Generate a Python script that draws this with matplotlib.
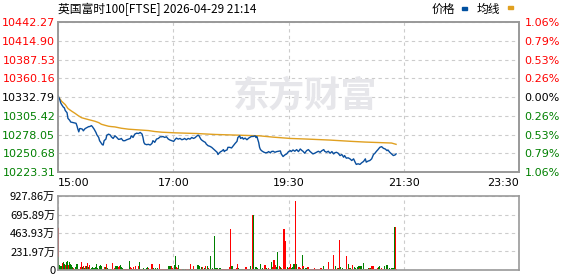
import numpy as np
import matplotlib.pyplot as plt
from matplotlib.patches import Rectangle

plt.rcParams['font.family'] = ['DejaVu Sans']
CJK = ['Noto Sans CJK SC', 'DejaVu Sans']

# 昨收 / 纵轴刻度
prev_close = 10332.79
price_ticks = [10442.27, 10414.90, 10387.53, 10360.16, 10332.79,
               10305.42, 10278.05, 10250.68, 10223.31]
pct_labels = ['1.06%', '0.79%', '0.53%', '0.26%', '0.00%',
              '0.26%', '0.53%', '0.79%', '1.06%']
vol_ticks = [0, 231.97, 463.93, 695.89, 927.86]
vol_labels = ['0', '231.97万', '463.93万', '695.89万', '927.86万']
# 交易时段 15:00-23:30 共 510 分钟
time_ticks = [0, 127.5, 255, 382.5, 510]
time_labels = ['15:00', '17:00', '19:30', '21:30', '23:30']

# 分时价格 (分钟, 点位)
price_min = [0, 2, 3, 4, 6, 7, 8, 10, 11, 13, 14, 17, 20, 21, 22, 23, 24, 25, 27, 28,
             30, 32, 34, 35, 37, 38, 40, 42, 43, 45, 46, 48, 49, 50, 51, 53, 54, 56, 58, 59,
             61, 63, 65, 67, 69, 70, 72, 74, 76, 78, 80, 81, 83, 85, 87, 89, 91, 93, 94, 95,
             96, 98, 100, 102, 104, 105, 106, 107, 109, 111, 113, 115, 116, 118, 120, 122, 124, 126, 128,
             129, 131, 133, 135, 137, 139, 140, 142, 144, 146, 148, 150, 152, 153, 155, 156, 158, 159,
             161, 163, 164, 166, 168, 170, 172, 174, 176, 177, 178, 180, 181, 183, 184, 185, 187, 188,
             190, 192, 194, 196, 198, 199, 201, 202, 204, 205, 207, 209, 211, 212, 214, 216, 218, 219,
             220, 222, 223, 224, 226, 228, 230, 232, 233, 235, 236, 238, 240, 242, 244, 246, 247, 249,
             251, 253, 255, 257, 258, 260, 262, 264, 266, 268, 270, 271, 273, 275, 277, 279, 281, 282,
             284, 286, 288, 290, 292, 294, 295, 297, 299, 301, 303, 305, 306, 308, 310, 312, 314, 316,
             317, 319, 321, 323, 325, 327, 329, 330, 332, 334, 336, 338, 340, 341, 343, 345, 347, 349,
             351, 352, 354, 356, 358, 360, 362, 364, 365, 367, 369, 371, 373, 374]
price = [10334.7, 10328.9, 10324.2, 10321.8, 10317.9, 10317.0, 10313.1, 10309.8, 10301.6, 10298.7,
         10296.3, 10295.4, 10294.4, 10290.6, 10285.8, 10281.9, 10286.7, 10286.7, 10285.8, 10283.4,
         10286.7, 10288.2, 10289.6, 10289.6, 10291.0, 10289.6, 10285.8, 10281.0, 10277.6, 10273.8,
         10269.0, 10265.1, 10263.2, 10262.7, 10269.0, 10271.4, 10277.1, 10278.6, 10277.1, 10274.7,
         10272.3, 10276.2, 10273.8, 10270.9, 10271.4, 10272.3, 10269.0, 10269.0, 10270.4, 10271.4,
         10272.3, 10276.2, 10273.8, 10278.6, 10280.0, 10279.5, 10281.0, 10278.6, 10273.8, 10266.6,
         10264.2, 10263.2, 10263.7, 10262.7, 10265.1, 10269.0, 10268.0, 10266.6, 10271.4, 10272.3,
         10274.7, 10274.7, 10275.2, 10273.8, 10274.7, 10271.4, 10269.9, 10269.0, 10268.0,
         10269.9, 10272.8, 10271.3, 10272.3, 10270.4, 10271.3, 10272.3, 10270.4, 10272.3, 10271.3,
         10273.7, 10272.3, 10273.7, 10275.2, 10277.1, 10276.1, 10271.3, 10269.9,
         10268.0, 10266.5, 10264.1, 10261.7, 10260.8, 10259.3, 10256.9, 10254.5, 10252.1, 10248.8,
         10250.7, 10253.1, 10253.6, 10256.0, 10253.1, 10254.5, 10255.5, 10259.3,
         10259.3, 10258.4, 10261.7, 10265.1, 10268.0, 10273.7, 10276.1, 10272.3, 10273.7, 10271.3,
         10272.8, 10270.4, 10272.8, 10273.7, 10275.2, 10275.2, 10276.1, 10273.7,
         10275.2, 10266.5, 10259.3, 10256.0, 10253.6, 10252.1, 10251.2, 10252.1, 10253.1, 10251.2,
         10253.1, 10253.6, 10252.1, 10253.1, 10253.6, 10254.1, 10249.7, 10245.9,
         10248.3, 10249.7, 10253.1, 10254.5, 10253.1, 10255.5, 10253.6, 10256.0, 10253.1, 10256.9,
         10254.5, 10253.6, 10250.7, 10254.5, 10256.0, 10253.1, 10250.7, 10249.7,
         10250.7, 10252.1, 10253.6, 10252.1, 10254.5, 10256.0, 10253.6, 10252.1, 10253.6, 10250.7,
         10253.1, 10249.7, 10251.2, 10252.1, 10250.7, 10247.3, 10248.8, 10244.9,
         10247.3, 10243.5, 10244.0, 10242.5, 10240.1, 10242.5, 10236.8, 10234.4, 10235.3, 10234.4,
         10236.8, 10238.7, 10242.5, 10237.7, 10239.2, 10240.1, 10242.5, 10248.8,
         10251.2, 10253.1, 10256.0, 10259.3, 10260.3, 10257.9, 10256.9, 10254.5, 10255.5, 10252.1,
         10249.7, 10247.3, 10248.3, 10249.7]

# 均价线
avg_min = [0, 4, 8, 11, 15, 19, 22, 26, 30, 34, 37, 41, 45, 48, 52, 56, 59, 63, 70, 78, 89,
           100, 107, 115, 129, 153, 174, 199, 223, 238, 257, 277, 301, 325, 340, 369, 374]
avg_price = [10334.0, 10326.5, 10321.7, 10316.0, 10312.2, 10308.8, 10305.9, 10302.6, 10301.1,
             10299.7, 10298.7, 10297.3, 10295.4, 10293.0, 10291.5, 10290.1, 10289.6, 10289.1,
             10287.2, 10285.8, 10284.8, 10283.8, 10282.4, 10281.4, 10280.5, 10279.5, 10278.1,
             10277.1, 10276.1, 10274.2, 10272.3, 10271.3, 10269.9, 10268.0, 10267.0, 10265.6,
             10263.7]

# 每分钟成交量 (万) 及涨跌 r=涨 g=跌
volume = [530, 160, 59, 55, 50, 84, 97, 80, 60, 97, 100, 110, 59, 97, 72, 59, 38, 25, 17, 40, 55, 72, 10, 12, 15,
          42, 97, 38, 46, 30, 42, 46, 46, 84, 38, 59, 17, 21, 38, 25, 21, 21, 38, 72, 21, 12, 46, 59, 46, 12,
          12, 20, 38, 34, 72, 21, 8, 17, 17, 17, 84, 12, 29, 21, 46, 46, 46, 34, 46, 59, 42, 25, 17, 8, 8,
          8, 8, 8, 8, 110, 34, 21, 12, 17, 38, 17, 46, 17, 17, 46, 97, 17, 8, 8, 8, 21, 17, 8, 21, 38,
          25, 12, 8, 8, 72, 8, 25, 12, 21, 12, 25, 8, 72, 8, 8, 8, 8, 8, 8, 8, 8, 8, 46, 46, 46,
          46, 46, 29, 12, 59, 173, 38, 25, 59, 12, 12, 8, 17, 8, 8, 8, 8, 8, 8, 17, 8, 8, 72, 17, 8,
          46, 8, 8, 8, 59, 59, 46, 38, 17, 38, 38, 17, 29, 46, 17, 46, 25, 17, 17, 173, 17, 25, 17, 426, 25,
          21, 21, 8, 8, 21, 21, 8, 8, 8, 8, 8, 8, 8, 8, 17, 38, 515, 46, 46, 8, 8, 17, 25, 8, 72,
          25, 17, 8, 8, 8, 8, 8, 17, 34, 21, 8, 8, 8, 46, 17, 685, 685, 17, 25, 38, 17, 25, 17, 8, 72,
          17, 25, 17, 17, 59, 38, 25, 17, 25, 17, 8, 97, 38, 59, 122, 84, 59, 38, 228, 17, 50, 34, 25, 8, 405,
          520, 25, 367, 8, 38, 25, 38, 72, 25, 17, 38, 72, 72, 861, 72, 17, 34, 34, 25, 8, 194, 50, 25, 17, 25,
          25, 34, 34, 17, 8, 8, 8, 8, 8, 21, 8, 8, 8, 8, 8, 21, 21, 8, 8, 50, 8, 8, 8, 8, 97,
          8, 8, 8, 8, 8, 185, 8, 50, 17, 25, 25, 375, 17, 38, 17, 25, 17, 17, 8, 173, 17, 72, 17, 25, 25,
          8, 59, 8, 38, 29, 8, 38, 25, 50, 25, 50, 46, 17, 84, 17, 17, 8, 17, 25, 25, 25, 25, 46, 46, 46,
          17, 17, 17, 17, 25, 34, 46, 17, 25, 17, 17, 46, 17, 17, 67, 17, 17, 21, 8, 25, 25, 25, 540, 540, 8]
vol_dir = ("rggggrggrgggrggggrggggrgr"
           "rrgrggrgrgrgggggrgggrgggr"
           "grrgrggrgrrrgrgggrrggggrr"
           "rrrrgrrggrrrgrrggrrrggrgg"
           "rgrrrrgrgrgrrrrrrrrrrrggg"
           "grrrggrrgggrrggrgrrrggrgg"
           "rrgrggggrgrrgrggrgggrgrgg"
           "ggrrggrrrrrrrrrrrggrrrrrr"
           "gggggrrrrrrrggrrggrgrgrrg"
           "rgrrrrggrrrgrrrrrggrrgrgg"
           "rrrrgrrrgrgggrgrrrrggrggg"
           "grrgrrrrrrrrrrrrrrrggrrrr"
           "rrrrrrrgrrgrggrgrggrrggrg"
           "grrggrgrgrggggrgrrggrgrrr"
           "rgrgrgggrrrgrrgrggrggggrr")

RED = '#ff0000'
GREEN = '#008000'
BLUE = '#0a4f9e'
ORANGE = '#e0a020'
EDGE = '#999999'
GRID = '#cccccc'

fig = plt.figure(figsize=(5.78, 2.76), dpi=100)
W, H = 578, 276
ax = fig.add_axes([58 / W, 1 - 172 / H, 461 / W, 150 / H])
axv = fig.add_axes([58 / W, 1 - 270 / H, 461 / W, 74 / H])

# 水印
fig.text(305 / W, 1 - 96 / H, '东方财富', family=CJK, fontsize=26, fontweight='bold',
         color='#e6e6ea', ha='center', va='center', zorder=0)

ax.plot(price_min, price, color=BLUE, lw=1.0, zorder=3)
ax.plot(avg_min, avg_price, color=ORANGE, lw=1.0, zorder=2)
ax.set_xlim(0, 510)
ax.set_ylim(price_ticks[-1], price_ticks[0])
ax.set_yticks(price_ticks)
ax.set_yticklabels(['%.2f' % v for v in price_ticks])
ax.set_xticks(time_ticks)
ax.set_xticklabels(time_labels)
for lab, v in zip(ax.get_yticklabels(), price_ticks):
    lab.set_color(RED if v > prev_close + 0.01 else ('black' if abs(v - prev_close) < 0.01 else GREEN))
xl = ax.get_xticklabels()
xl[0].set_ha('left')
xl[-1].set_ha('right')
ax.tick_params(axis='y', length=0, pad=2, labelsize=8)
ax.tick_params(axis='x', length=0, pad=4, labelsize=8)
ax.grid(True, ls=(0, (3, 3)), color=GRID, lw=0.8)
ax.patch.set_alpha(0)

ax2 = ax.twinx()
ax2.set_ylim(price_ticks[-1], price_ticks[0])
ax2.set_yticks(price_ticks)
ax2.set_yticklabels(pct_labels)
for lab, v in zip(ax2.get_yticklabels(), price_ticks):
    lab.set_color(RED if v > prev_close + 0.01 else ('black' if abs(v - prev_close) < 0.01 else GREEN))
ax2.tick_params(axis='y', length=0, pad=4, labelsize=8)

# 成交量
vol_colors = [RED if c == 'r' else GREEN for c in vol_dir]
axv.bar(np.arange(len(volume)), volume, width=1.2, color=vol_colors, linewidth=0,
        antialiased=False, zorder=2)
axv.set_xlim(0, 510)
axv.set_ylim(0, vol_ticks[-1])
axv.set_yticks(vol_ticks)
axv.set_yticklabels(vol_labels, family=CJK)
axv.set_xticks(time_ticks)
axv.set_xticklabels([])
axv.tick_params(axis='both', length=0, pad=2, labelsize=8)
axv.grid(True, ls=(0, (3, 3)), color=GRID, lw=0.8)

for a in (ax, ax2, axv):
    for s in a.spines.values():
        s.set_color(EDGE)
        s.set_linewidth(1.2)

# 标题与图例
fig.text(58 / W, 1 - 9 / H, '英国富时100[FTSE] 2026-04-29 21:14', family=CJK,
         fontsize=8.5, ha='left', va='center')
fig.text(432 / W, 1 - 9 / H, '价格', family=CJK, fontsize=8.5, ha='left', va='center')
fig.text(477 / W, 1 - 9 / H, '均线', family=CJK, fontsize=8.5, ha='left', va='center')
fig.patches.append(Rectangle((462 / W, 1 - 10 / H), 5 / W, 3 / H, color='#0050a0',
                             transform=fig.transFigure, figure=fig))
fig.patches.append(Rectangle((508 / W, 1 - 9 / H), 5 / W, 3 / H, color=ORANGE,
                             transform=fig.transFigure, figure=fig))

fig.savefig('out.png', dpi=100)
